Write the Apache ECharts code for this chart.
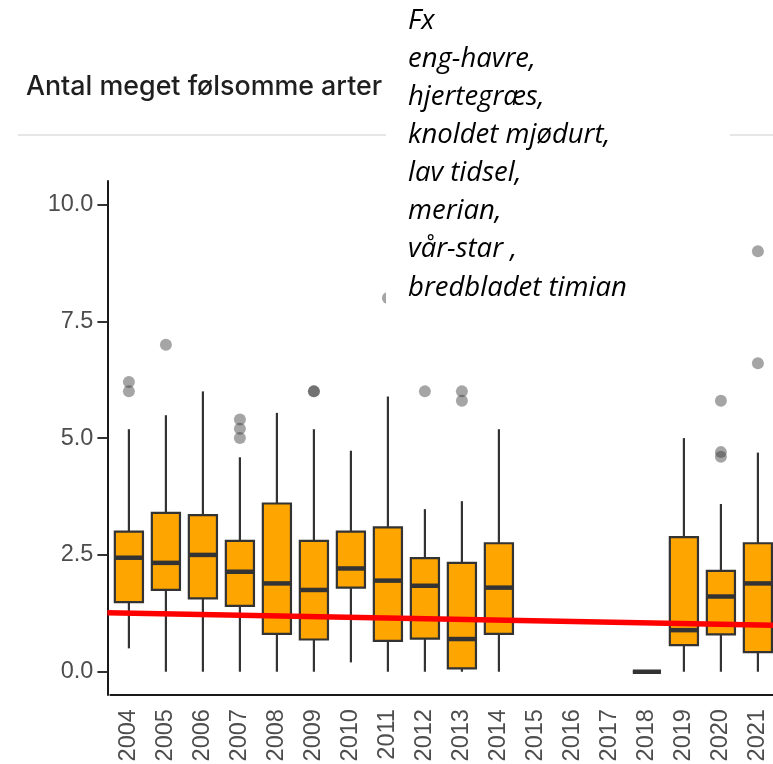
<!DOCTYPE html>
<html><head><meta charset="utf-8">
<script src="https://cdn.jsdelivr.net/npm/echarts@6/dist/echarts.min.js"></script>
<style>html,body{margin:0;padding:0;background:#fff}#c{width:773px;height:764px}</style>
</head><body><div id="c"></div>
<script>
// ---- data ----
const years = ['2004','2005','2006','2007','2008','2009','2010','2011','2012','2013','2014','2015','2016','2017','2018','2019','2020','2021'];
const whiskerLow  = [0.5, 0,    0,    0,    0,    0,    0.2,  0,    0,    0,    0,    null, null, null, 0, 0,    0,    0];
const quart1      = [1.49,1.75, 1.57, 1.41, 0.81, 0.69, 1.80, 0.66, 0.71, 0.07, 0.81, null, null, null, 0, 0.57, 0.80, 0.42];
const medians     = [2.44,2.33, 2.50, 2.14, 1.89, 1.75, 2.21, 1.95, 1.84, 0.70, 1.80, null, null, null, 0, 0.89, 1.61, 1.89];
const quart3      = [3.00,3.40, 3.35, 2.80, 3.60, 2.80, 3.00, 3.09, 2.43, 2.33, 2.75, null, null, null, 0, 2.88, 2.16, 2.75];
const whiskerHigh = [5.19,5.49, 6.00, 4.59, 5.54, 5.19, 4.73, 5.89, 3.48, 3.65, 5.19, null, null, null, 0, 5.00, 3.59, 4.69];
const outlierYears  = ['2004','2004','2005','2007','2007','2007','2009','2009','2011','2012','2013','2013','2020','2020','2020','2021','2021'];
const outlierValues = [6.2,   6.0,   7.0,   5.4,   5.2,   5.0,   6.0,   6.0,   8.0,   6.0,   6.0,   5.8,   5.8,   4.7,   4.6,   9.0,   6.6];
const trendX = [-0.58, 17.6];
const trendY = [1.26, 0.99];
const yTicks = [0, 2.5, 5, 7.5, 10];
const titleText = 'Antal meget følsomme arter';
const noteLines = ['Fx','eng-havre,','hjertegræs,','knoldet mjødurt,','lav tidsel,','merian,','vår-star ,','bredbladet timian'];

// ---- build ----
const boxData = [];
years.forEach((y, i) => {
  if (medians[i] == null) return;
  boxData.push([i, whiskerLow[i], quart1[i], medians[i], quart3[i], whiskerHigh[i]]);
});
const outliers = outlierYears.map((y, i) => [y, outlierValues[i]]);
const trend = trendX.map((x, i) => [x, trendY[i]]);

const chart = echarts.init(document.getElementById('c'), null, {renderer: 'canvas'});
chart.setOption({
  animation: false,
  backgroundColor: '#fff',
  grid: {left: 110.4, top: 181.1, width: 666, height: 514, containLabel: false, outerBoundsMode: 'none'},
  xAxis: [{
    type: 'category', data: years, boundaryGap: true, position: 'bottom',
    axisLine: {onZero: false, lineStyle: {color: '#1a1a1a', width: 2}},
    axisTick: {alignWithLabel: true, length: 9, lineStyle: {color: '#333', width: 2}},
    axisLabel: {rotate: 90, fontSize: 23.5, color: '#4d4d4d', margin: 14, fontFamily: 'Liberation Sans', interval: 0},
    splitLine: {show: false}
  }, {
    type: 'value', min: -0.5, max: 17.5, show: false, axisLine: {onZero: false}
  }],
  yAxis: {
    type: 'value', min: -0.5, max: 10.5, offset: 3, position: 'left',
    axisLine: {show: true, onZero: false, lineStyle: {color: '#1a1a1a', width: 2}},
    axisTick: {show: true, length: 10, customValues: yTicks, lineStyle: {color: '#333', width: 2}},
    axisLabel: {customValues: yTicks, formatter: v => Number(v).toFixed(1), fontSize: 23.5, color: '#4d4d4d', margin: 14, fontFamily: 'Liberation Sans'},
    splitLine: {show: false}
  },
  series: [{
    type: 'custom', xAxisIndex: 0, z: 2,
    data: boxData,
    encode: {x: 0, y: [1, 2, 3, 4, 5]},
    renderItem: function (params, api) {
      const i = api.value(0);
      const lo = api.coord([i, api.value(1)]);
      const a = api.coord([i, api.value(2)]);
      const m = api.coord([i, api.value(3)]);
      const b = api.coord([i, api.value(4)]);
      const hi = api.coord([i, api.value(5)]);
      const w = api.size([1, 0])[0] * 0.76;
      const x = lo[0];
      const col = '#333333';
      return {type: 'group', children: [
        {type: 'line', shape: {x1: x, y1: hi[1], x2: x, y2: b[1]}, style: {stroke: col, lineWidth: 2.2}},
        {type: 'line', shape: {x1: x, y1: a[1], x2: x, y2: lo[1]}, style: {stroke: col, lineWidth: 2.2}},
        {type: 'rect', shape: {x: x - w / 2, y: b[1], width: w, height: a[1] - b[1]}, style: {fill: '#FFA500', stroke: col, lineWidth: 2.2}},
        {type: 'line', shape: {x1: x - w / 2, y1: m[1], x2: x + w / 2, y2: m[1]}, style: {stroke: col, lineWidth: 4.5}}
      ]};
    }
  }, {
    type: 'scatter', xAxisIndex: 0, z: 3, data: outliers, symbolSize: 12,
    itemStyle: {color: 'rgba(51,51,51,0.55)'}, silent: true
  }, {
    type: 'line', xAxisIndex: 1, z: 4, data: trend, symbol: 'none', clip: false, silent: true,
    lineStyle: {color: '#ff0000', width: 5.5}
  }],
  graphic: [
    {type: 'line', z: 50, shape: {x1: 18, y1: 135, x2: 773, y2: 135}, style: {stroke: '#e6e6e6', lineWidth: 2}},
    {type: 'text', z: 50, x: 26, y: 87, style: {text: titleText, fontSize: 26.8, fontWeight: 500, fontFamily: 'Inter', fill: '#1f1f1f', verticalAlign: 'middle'}},
    {type: 'rect', z: 100, shape: {x: 386, y: 0, width: 344, height: 308}, style: {fill: '#ffffff'}},
    {type: 'text', z: 101, x: 408, y: 2, style: {text: noteLines.join('\n'), fontSize: 27.5, fontStyle: 'italic', fontFamily: 'Open Sans', fill: '#000', lineHeight: 38.1, verticalAlign: 'top'}}
  ]
});
</script></body></html>
